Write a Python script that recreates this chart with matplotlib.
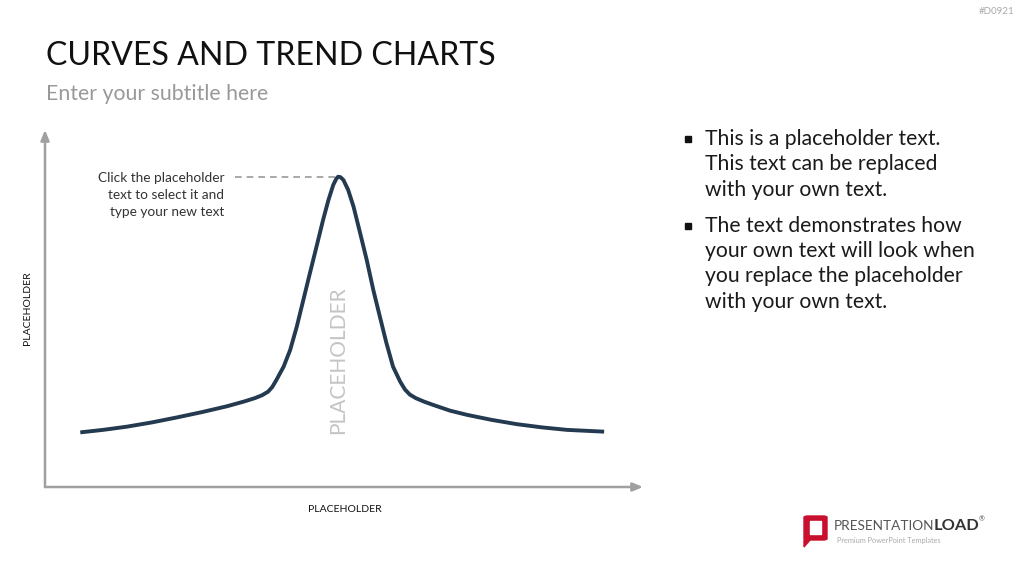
import matplotlib.pyplot as plt
from matplotlib.patches import FancyBboxPatch, Rectangle, Polygon

plt.rcParams['font.family'] = ['Lato', 'DejaVu Sans']

W, H = 1024, 576

# curve (x and y in 0..100 chart units)
curve_x = [5.9, 9.7, 13.7, 17.9, 22.1, 26.3, 30.4, 33.4, 35.1, 36.3, 37.3, 38.0,
           38.7, 39.9, 41.0, 42.1, 43.2, 44.3, 45.4, 46.5, 47.4, 48.2, 48.7, 49.0,
           49.4, 49.9, 50.7, 51.6, 52.7, 53.8, 54.9, 56.0, 57.1, 58.2, 59.4, 60.2,
           61.0, 62.0, 63.4, 64.9, 67.7, 70.6, 74.7, 78.9, 83.1, 87.3, 93.5]
curve_y = [15.3, 16.0, 16.9, 18.1, 19.5, 21.0, 22.6, 24.0, 24.9, 25.7, 26.7, 28.0,
           30.0, 33.7, 38.4, 44.9, 52.4, 59.9, 67.3, 74.8, 80.4, 84.6, 86.3, 86.9,
           86.8, 86.0, 83.2, 78.5, 71.1, 63.6, 55.2, 47.7, 40.3, 33.7, 29.5, 27.3,
           25.9, 24.9, 23.9, 23.0, 21.4, 20.2, 18.8, 17.6, 16.7, 16.0, 15.5]
peak_x = 49.0
peak_y = 86.9

title = "CURVES AND TREND CHARTS"
subtitle = "Enter your subtitle here"
axis_label = "PLACEHOLDER"
note_lines = ["Click the placeholder", "text to select it and", "type your new text"]
bullets = [
    ["This is a placeholder text.", "This text can be replaced", "with your own text."],
    ["The text demonstrates how", "your own text will look when",
     "you replace the placeholder", "with your own text."],
]

fig = plt.figure(figsize=(W / 100, H / 100), dpi=100)


def fx(px):
    return px / W


def fy(py):
    return 1 - py / H


# header
fig.text(fx(46), fy(56), title, fontsize=23.1, color='#111111', va='center', ha='left')
fig.text(fx(46), fy(94), subtitle, fontsize=15.3, color='#999999', va='center', ha='left')
fig.text(fx(1014), fy(12), "#D0921", fontsize=7, color='#aaaaaa', va='center', ha='right')

# chart area
ax = fig.add_axes([fx(45), fy(487), fx(643) - fx(45), (487 - 130) / H])
ax.set_xlim(0, 100)
ax.set_ylim(0, 100)
for s in ax.spines.values():
    s.set_visible(False)
ax.set_xticks([])
ax.set_yticks([])
ax.patch.set_alpha(0)

arrow = dict(arrowstyle='-|>,head_length=0.6,head_width=0.25', color='#a0a0a0', lw=1.8,
             shrinkA=0, shrinkB=0)
ax.annotate('', xy=(1, 0), xytext=(0, 0), xycoords='axes fraction', arrowprops=arrow)
ax.annotate('', xy=(0, 1), xytext=(0, 0), xycoords='axes fraction', arrowprops=arrow)

ax.plot(curve_x, curve_y, color='#243a50', lw=2.8, solid_joinstyle='round',
        solid_capstyle='butt')
ax.plot([31.7, peak_x - 0.5], [peak_y, peak_y], color='#999999', lw=1.2,
        ls=(0, (4, 3)))
for i, line in enumerate(note_lines):
    fig.text(fx(224), fy(178 + 17 * i), line, fontsize=9.8, color='#333333',
             ha='right', va='center')
ax.text(49.0, 35.5, axis_label, fontsize=15, color='#c4c4c4', rotation=90,
        ha='center', va='center')

fig.text(fx(345), fy(509), axis_label, fontsize=7.5, color='#111111', ha='center', va='center')
fig.text(fx(28), fy(308), axis_label, fontsize=7.5, color='#111111', ha='center', va='center',
         rotation=90)

# bullets
yy = 139
for b in bullets:
    fig.patches.append(Rectangle((fx(685), fy(yy + 3)), fx(6), 6 / H, transform=fig.transFigure,
                                 color='#111111'))
    for line in b:
        fig.text(fx(705), fy(yy), line, fontsize=15.2, color='#1a1a1a', ha='left',
                 va='center')
        yy += 25.3
    yy += 10.7

# logo
fig.patches.append(FancyBboxPatch((fx(804), fy(540)), fx(23), 24 / H, transform=fig.transFigure,
                                  boxstyle='round,pad=0,rounding_size=0.004',
                                  color='#c8102e', mutation_aspect=H / W))
fig.patches.append(Polygon([(fx(804), fy(540)), (fx(810), fy(540)), (fx(804), fy(547))],
                           closed=True, transform=fig.transFigure, color='#c8102e'))
fig.patches.append(Rectangle((fx(810), fy(534)), fx(11), 13 / H, transform=fig.transFigure,
                             color='white'))
fig.text(fx(934), fy(526), "PRESENTATION", fontsize=9.8, color='#555555', ha='right',
         va='center')
fig.text(fx(934), fy(526), "LOAD", fontsize=11.8, color='#333333', ha='left', va='center',
         fontweight='bold')
fig.text(fx(979), fy(519), "®", fontsize=5, color='#555555', ha='left', va='center')
fig.text(fx(837), fy(540), "Premium PowerPoint Templates", fontsize=5.3, color='#aaaaaa',
         ha='left', va='center')

fig.savefig('out.png', dpi=100, facecolor='white')
